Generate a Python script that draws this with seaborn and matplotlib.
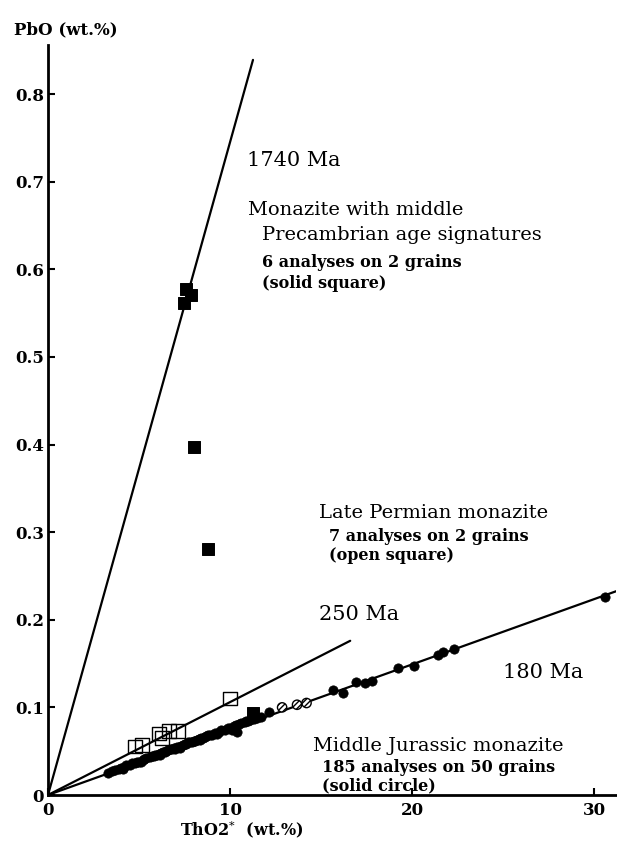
import numpy as np
import pandas as pd
import matplotlib
matplotlib.use("Agg")
import matplotlib.pyplot as plt
import seaborn as sns

# reference age lines (ThO2*, PbO end points from origin)
line_1740_x = [0, 11.26]
line_1740_y = [0, 0.839]
line_250_x = [0, 16.6]
line_250_y = [0, 0.176]
line_180_x = [0, 31.4]
line_180_y = [0, 0.234]

# Precambrian monazite (solid square)
sq_solid_x = [7.58, 7.86, 7.47, 8.02, 8.79, 11.26]
sq_solid_y = [0.578, 0.571, 0.561, 0.397, 0.281, 0.094]

# Late Permian monazite (open square)
sq_open_x = [4.78, 5.16, 6.10, 6.26, 6.65, 7.14, 10.0]
sq_open_y = [0.055, 0.057, 0.070, 0.065, 0.073, 0.073, 0.110]

# Middle Jurassic monazite (solid circle)
circ_x = [3.3, 3.5, 3.7, 3.9, 4.0, 4.1, 4.2, 4.3, 4.5, 4.6, 4.8, 4.9, 5.0, 5.1,
          5.2, 5.3, 5.4, 5.6, 5.7, 5.8, 5.9, 6.0, 6.1, 6.15, 6.2, 6.3, 6.4, 6.5,
          6.6, 6.7, 6.8, 6.9, 7.0, 7.1, 7.2, 7.25, 7.3, 7.4, 7.5, 7.6, 7.7, 7.8,
          7.9, 8.0, 8.1, 8.2, 8.3, 8.35, 8.4, 8.5, 8.6, 8.7, 8.8, 8.9, 9.0, 9.2,
          9.3, 9.4, 9.5, 9.7, 9.9, 10.0, 10.1, 10.2, 10.3, 10.4, 10.5, 10.6,
          10.8, 10.9, 11.0, 11.1, 11.3, 11.5, 11.7, 12.14, 15.66, 16.2, 16.9,
          17.4, 17.8, 19.2, 20.1, 21.4, 21.7, 22.3, 30.6]
circ_y = [0.025, 0.027, 0.028, 0.030, 0.031, 0.030, 0.032, 0.034, 0.034, 0.036,
          0.037, 0.038, 0.038, 0.038, 0.040, 0.041, 0.042, 0.043, 0.044, 0.044,
          0.046, 0.046, 0.047, 0.046, 0.048, 0.049, 0.049, 0.050, 0.051, 0.052,
          0.052, 0.054, 0.053, 0.055, 0.055, 0.054, 0.056, 0.057, 0.058, 0.058,
          0.060, 0.060, 0.061, 0.062, 0.062, 0.063, 0.064, 0.063, 0.065, 0.065,
          0.066, 0.067, 0.068, 0.068, 0.069, 0.071, 0.070, 0.072, 0.074, 0.074,
          0.076, 0.077, 0.074, 0.079, 0.080, 0.072, 0.081, 0.082, 0.083, 0.085,
          0.085, 0.086, 0.087, 0.088, 0.089, 0.095, 0.120, 0.116, 0.129, 0.128,
          0.130, 0.145, 0.147, 0.160, 0.163, 0.167, 0.226]

# altered grains drawn as hatched circles
circ_hatch_x = [12.86, 13.68, 14.2]
circ_hatch_y = [0.100, 0.103, 0.105]

x_ticks = [0, 10, 20, 30]
y_ticks = [0, 0.1, 0.2, 0.3, 0.4, 0.5, 0.6, 0.7, 0.8]
y_tick_labels = ["0", "0.1", "0.2", "0.3", "0.4", "0.5", "0.6", "0.7", "0.8"]

sns.set_style("ticks")
plt.rcParams["font.family"] = ["DejaVu Serif"]
plt.rcParams["mathtext.fontset"] = "dejavuserif"
plt.rcParams["text.color"] = "black"

fig = plt.figure(figsize=(6.17, 8.42), dpi=100)
ax = fig.add_axes([48 / 617, 47 / 842, 568 / 617, 750 / 842])

for lx, ly in [(line_1740_x, line_1740_y), (line_250_x, line_250_y), (line_180_x, line_180_y)]:
    sns.lineplot(x=lx, y=ly, ax=ax, color="black", lw=1.6)

sns.scatterplot(x=circ_x, y=circ_y, ax=ax, marker="o", s=45, color="black",
                edgecolor="black", linewidth=0.5, zorder=3)
sns.scatterplot(x=circ_hatch_x, y=circ_hatch_y, ax=ax, marker="o", s=45,
                facecolor="white", edgecolor="black", linewidth=1.0,
                hatch="//////", zorder=3)
sns.scatterplot(x=sq_open_x, y=sq_open_y, ax=ax, marker="s", s=90,
                facecolor="none", edgecolor="black", linewidth=1.0, zorder=4)
sns.scatterplot(x=sq_solid_x, y=sq_solid_y, ax=ax, marker="s", s=75,
                color="black", edgecolor="black", zorder=4)

ax.set_xlim(0, 31.2)
ax.set_ylim(0, 0.856)
ax.set_xticks(x_ticks)
ax.set_xticklabels([str(t) for t in x_ticks])
ax.set_yticks(y_ticks)
ax.set_yticklabels(y_tick_labels)
for lab in ax.get_xticklabels() + ax.get_yticklabels():
    lab.set_fontweight("bold")
    lab.set_fontsize(12)
    lab.set_color("black")
ax.tick_params(direction="in", length=5, width=1.5, colors="black")
ax.tick_params(axis="y", pad=3)
ax.tick_params(axis="x", pad=5)
sns.despine(ax=ax)
for sp in ["left", "bottom"]:
    ax.spines[sp].set_linewidth(2)
    ax.spines[sp].set_color("black")
ax.set_xlabel("")
ax.set_ylabel("")

fig.text(14 / 617, 1 - 30 / 842, "PbO (wt.%)", fontsize=12, fontweight="bold",
         ha="left", va="center")
fig.text(242 / 617, 1 - 829 / 842, "ThO2$^{*}$  (wt.%)", fontsize=11.5,
         fontweight="bold", ha="center", va="center")

big = 15
mid = 14
small = 11.5
ax.text(10.93, 0.724, "1740 Ma", fontsize=big, va="center")
ax.text(10.99, 0.668, "Monazite with middle", fontsize=mid, va="center")
ax.text(11.76, 0.639, "Precambrian age signatures", fontsize=mid, va="center")
ax.text(11.76, 0.608, "6 analyses on 2 grains", fontsize=small, fontweight="bold", va="center")
ax.text(11.76, 0.584, "(solid square)", fontsize=small, fontweight="bold", va="center")

ax.text(14.89, 0.322, "Late Permian monazite", fontsize=mid, va="center")
ax.text(15.44, 0.2945, "7 analyses on 2 grains", fontsize=small, fontweight="bold", va="center")
ax.text(15.44, 0.273, "(open square)", fontsize=small, fontweight="bold", va="center")

ax.text(14.89, 0.2055, "250 Ma", fontsize=big, va="center")
ax.text(25.0, 0.140, "180 Ma", fontsize=big, va="center")

ax.text(14.56, 0.056, "Middle Jurassic monazite", fontsize=mid, va="center")
ax.text(15.05, 0.031, "185 analyses on 50 grains", fontsize=small, fontweight="bold", va="center")
ax.text(15.05, 0.0103, "(solid circle)", fontsize=small, fontweight="bold", va="center")

fig.savefig("out.png", dpi=100)
